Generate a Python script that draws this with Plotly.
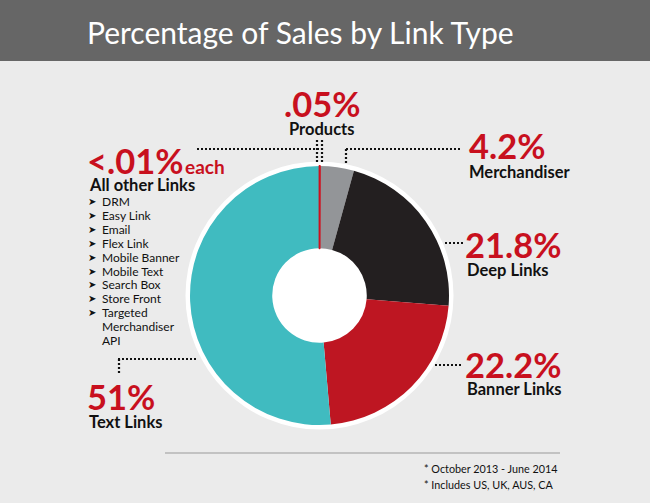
import plotly.graph_objects as go

# ---- data ----
link_types = ["Products", "Merchandiser", "Deep Links", "Banner Links", "Text Links"]
sales_pct = [0.05, 4.2, 21.8, 22.2, 51.0]
pct_labels = [".05%", "4.2%", "21.8%", "22.2%", "51%"]
other_links = ["DRM", "Easy Link", "Email", "Flex Link", "Mobile Banner",
               "Mobile Text", "Search Box", "Store Front", "Targeted Merchandiser API"]
other_pct_label = "<.01%"
footnotes = ["* October 2013 - June 2014", "* Includes US, UK, AUS, CA"]
title_text = "Percentage of Sales by Link Type"

# ---- styles ----
W, H = 650, 503
BG = "#ebebeb"
RED = "#c8101e"
slice_colors = ["#d0101e", "#939598", "#231f20", "#be1622", "#40bbc0"]
FONT = "Lato"
CLEAR = "rgba(0,0,0,0)"


def px(x):
    return x / W


def py(y):
    return 1 - y / H


cx, cy, r = 319.5, 295.5, 129.5
dom = dict(x=[px(cx - r), px(cx + r)], y=[py(cy + r), py(cy - r)])

fig = go.Figure()
fig.add_trace(go.Pie(
    labels=link_types, values=sales_pct, sort=False, direction="clockwise",
    rotation=0, hole=0.365, textinfo="none", hoverinfo="label+percent",
    marker=dict(colors=slice_colors, line=dict(width=0)),
    domain=dom, showlegend=False,
))
# overlay that keeps the hair-thin "Products" slice visible on top
fig.add_trace(go.Pie(
    labels=link_types, values=sales_pct, sort=False, direction="clockwise",
    rotation=0, hole=0.365, textinfo="none", hoverinfo="skip",
    marker=dict(colors=[slice_colors[0]] + [CLEAR] * (len(link_types) - 1),
                line=dict(color=[slice_colors[0]] + [CLEAR] * (len(link_types) - 1),
                          width=[1.8] + [0] * (len(link_types) - 1))),
    domain=dom, showlegend=False,
))

shapes = []
# title bar
shapes.append(dict(type="rect", xref="paper", yref="paper", x0=0, x1=1, y0=py(61), y1=1,
                   fillcolor="#666666", line=dict(width=0), layer="below"))
# white ring behind the pie
R2 = r + 4.5
shapes.append(dict(type="circle", xref="paper", yref="paper",
                   x0=px(cx - R2), x1=px(cx + R2), y0=py(cy + R2), y1=py(cy - R2),
                   fillcolor="white", line=dict(width=0), layer="below"))
# footer rule
shapes.append(dict(type="line", xref="paper", yref="paper", x0=px(165), x1=px(560),
                   y0=py(453), y1=py(453), line=dict(color="#b5b5b5", width=1.5)))

dot = dict(color="#111111", width=2.2, dash="2px,2px")


def seg(x0, y0, x1, y1):
    shapes.append(dict(type="line", xref="paper", yref="paper", x0=px(x0), x1=px(x1),
                       y0=py(y0), y1=py(y1), line=dot))


# leaders
seg(197, 149, 321, 149)       # products -> others
seg(317, 140, 317, 162)
seg(322, 140, 322, 162)
seg(346, 149, 346, 165)       # merchandiser
seg(346, 149, 462, 149)
seg(445, 243, 463, 243)       # deep links
seg(435, 365, 463, 365)       # banner links
seg(118, 359, 197, 359)       # text links
seg(119, 359, 119, 374)

ann = []


def text(x, y, s, size, color="#111111", bold=False, anchor="left", family=FONT):
    ann.append(dict(x=px(x), y=py(y), xref="paper", yref="paper", text=s, showarrow=False,
                    xanchor=anchor, yanchor="middle", borderpad=0,
                    font=dict(family=family, size=size, color=color,
                              weight="bold" if bold else "normal")))


# title
text(86, 32, title_text, 30, color="white")

# value labels
pct_pos = [(322, 104, "center"), (468, 146, "left"), (464, 244, "left"),
           (464, 364, "left"), (86, 396, "left")]
name_pos = [(322, 129, "center"), (468, 172, "left"), (466, 270, "left"),
            (466, 389, "left"), (88, 422, "left")]
for i in range(len(link_types)):
    x, y, a = pct_pos[i]
    text(x, y, pct_labels[i], 34.5, color=RED, bold=True, anchor=a)
    x, y, a = name_pos[i]
    text(x, y, link_types[i], 16.5, bold=True, anchor=a)

# other links block
text(86, 160, other_pct_label, 34.5, color=RED, bold=True)
text(184, 166, "each", 19, color=RED, bold=True)
text(88, 185, "All other Links", 16.5, bold=True)
yy = 201.5
for item in other_links:
    lines = item.split(" ") if len(item) > 14 else [item]
    for j, ln in enumerate(lines):
        if j == 0:
            text(87, yy, "➤", 10, family="DejaVu Sans")
        text(101, yy, ln, 12)
        yy += 13.9

# footnotes
text(423, 468, footnotes[0], 10.8)
text(423, 484, footnotes[1], 10.8)

fig.update_layout(
    width=W, height=H, margin=dict(l=0, r=0, t=0, b=0),
    paper_bgcolor=BG, plot_bgcolor=BG,
    shapes=shapes, annotations=ann, showlegend=False,
)

fig.write_html("out.html", config={"displayModeBar": False},
               post_script="document.body.style.margin='0';")
